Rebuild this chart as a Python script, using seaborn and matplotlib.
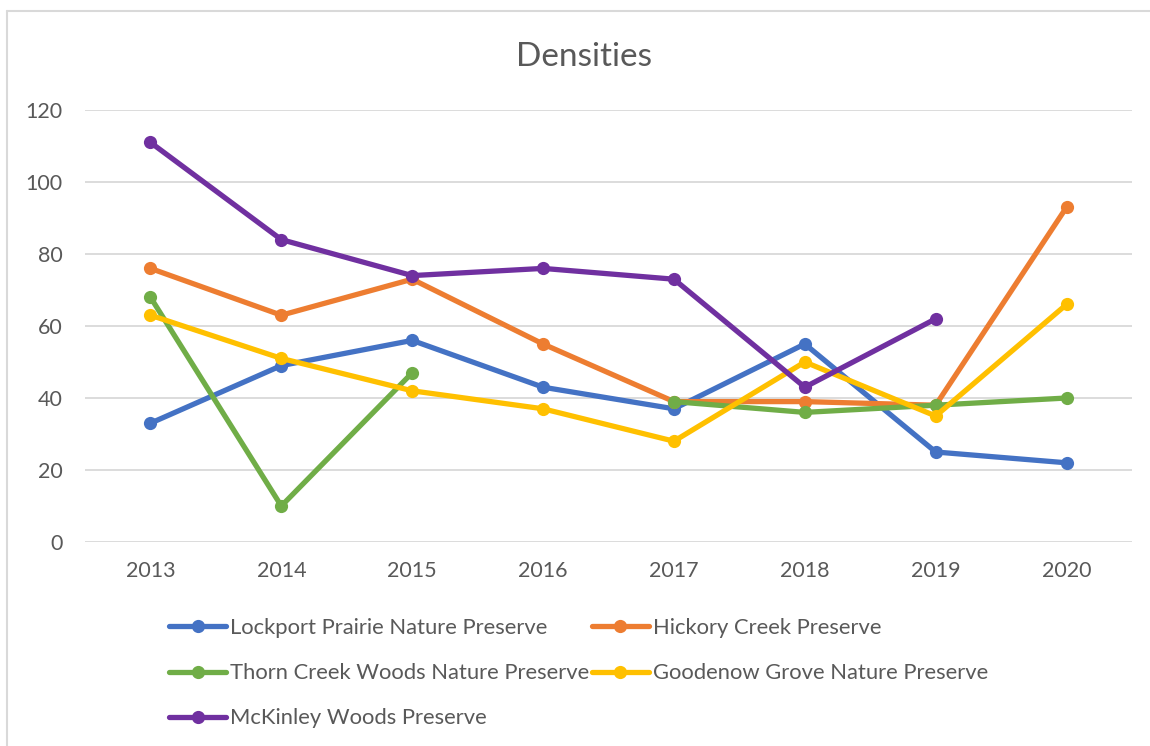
import numpy as np
import pandas as pd
import matplotlib
matplotlib.use("Agg")
import matplotlib.pyplot as plt
from matplotlib.lines import Line2D
import seaborn as sns

years = [2013, 2014, 2015, 2016, 2017, 2018, 2019, 2020]
series_names = [
    "Lockport Prairie Nature Preserve",
    "Hickory Creek Preserve",
    "Thorn Creek Woods Nature Preserve",
    "Goodenow Grove Nature Preserve",
    "McKinley Woods Preserve",
]
lockport = [33, 49, 56, 43, 37, 55, 25, 22]
hickory = [76, 63, 73, 55, 39, 39, 38, 93]
thorn = [68, 10, 47, np.nan, 39, 36, 38, 40]
goodenow = [63, 51, 42, 37, 28, 50, 35, 66]
mckinley = [111, 84, 74, 76, 73, 43, 62, np.nan]
colors = ["#4472C4", "#ED7D31", "#70AD47", "#FFC000", "#7030A0"]
title = "Densities"
yticks = [0, 20, 40, 60, 80, 100, 120]

# long-form table, splitting each series into contiguous segments at gaps
rows = []
for name, vals in zip(series_names, [lockport, hickory, thorn, goodenow, mckinley]):
    seg = 0
    for yr, v in zip(years, vals):
        if v is None or (isinstance(v, float) and np.isnan(v)):
            seg += 1
            continue
        rows.append({"Year": yr, "Density": v, "Site": name, "seg": f"{name}-{seg}"})
df = pd.DataFrame(rows)

sns.set_theme(style="white")
plt.rcParams["font.family"] = ["Lato", "DejaVu Sans"]
txt = "#595959"

fig = plt.figure(figsize=(11.5, 7.46), dpi=100)
ax = fig.add_axes([85 / 1150, 1 - 542 / 746, (1132 - 85) / 1150, (542 - 110) / 746])

sns.lineplot(
    data=df, x="Year", y="Density", hue="Site", units="seg", estimator=None,
    hue_order=series_names, palette=colors, marker="o", markersize=9.5,
    markeredgewidth=0, linewidth=3.8, ax=ax, legend=True, sort=True,
)

ax.set_xlim(2012.5, 2020.5)
ax.set_ylim(0, 120)
ax.set_yticks(yticks)
ax.set_xticks(years)
ax.set_xticklabels([str(y) for y in years])
ax.set_xlabel("")
ax.set_ylabel("")
ax.grid(axis="y", color="#D9D9D9", linewidth=1.3)
ax.set_axisbelow(True)
for s in ax.spines.values():
    s.set_visible(False)
ax.tick_params(axis="both", length=0, labelsize=15.5, colors=txt)
ax.tick_params(axis="y", pad=16)
ax.tick_params(axis="x", pad=14)

fig.text(584 / 1150, 1 - 57 / 746, title, ha="center", va="center",
         fontsize=24, color=txt)

# legend
ax.get_legend().remove()
order = [0, 2, 4, 1, 3]
handles = [Line2D([0], [0], color=colors[i], linewidth=3.8, marker="o",
                  markersize=9.5, markeredgewidth=0) for i in order]
labels = [series_names[i] for i in order]
leg = fig.legend(handles, labels, loc="upper left",
                 bbox_to_anchor=(169 / 1150, 1 - 618 / 746), ncol=2,
                 frameon=False, fontsize=15.8, handlelength=2.6,
                 handletextpad=0.2, columnspacing=0.1, labelspacing=1.15,
                 borderpad=0, borderaxespad=0, numpoints=1)
for t in leg.get_texts():
    t.set_color(txt)

# chart-area border (left and top visible)
fig.add_artist(Line2D([7 / 1150, 7 / 1150], [-0.01, 1 - 11 / 746],
                      transform=fig.transFigure, color="#D9D9D9", linewidth=1.5))
fig.add_artist(Line2D([7 / 1150, 1.01], [1 - 11 / 746, 1 - 11 / 746],
                      transform=fig.transFigure, color="#D9D9D9", linewidth=1.5))

fig.savefig("out.png", dpi=100)
